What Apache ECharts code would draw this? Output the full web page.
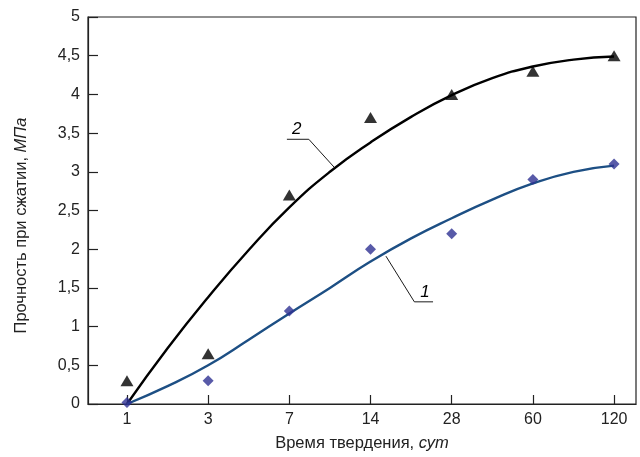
<!DOCTYPE html>
<html>
<head>
<meta charset="utf-8">
<script src="https://cdn.jsdelivr.net/npm/echarts@6/dist/echarts.min.js"></script>
<style>
html,body{margin:0;padding:0;background:#fff;}
#chart{width:640px;height:457px;}
</style>
</head>
<body>
<div id="chart"></div>
<script>
// Categories (curing time, days) — placed at equal steps
var categories = ['1', '3', '7', '14', '28', '60', '120'];
var yTicks = [0, 0.5, 1, 1.5, 2, 2.5, 3, 3.5, 4, 4.5, 5];

// Measured points
var seriesTriangles = [0.3, 0.65, 2.7, 3.7, 4.0, 4.3, 4.5];   // curve 2
var seriesDiamonds  = [0.02, 0.3, 1.2, 2.0, 2.2, 2.9, 3.1];   // curve 1

// Trend curves at half-steps between categories
var curvePos = [0, 0.5, 1, 1.5, 2, 2.5, 3, 3.5, 4, 4.5, 5, 5.5, 6];
var curve2 = [0.0, 0.72, 1.38, 1.99, 2.54, 3.00, 3.38, 3.71, 3.99, 4.21, 4.36, 4.45, 4.49];
var curve1 = [0.0, 0.23, 0.50, 0.83, 1.17, 1.50, 1.84, 2.14, 2.40, 2.64, 2.85, 3.00, 3.08];

var FONT = "'Liberation Sans', Arial, sans-serif";

function pairs(xs, ys) { return ys.map(function (v, i) { return [xs[i], v]; }); }
var idx = categories.map(function (c, i) { return i; });

var chart = echarts.init(document.getElementById('chart'), null, {renderer: 'canvas'});
chart.setOption({
  backgroundColor: '#fff',
  animation: false,
  grid: {left: 88, right: 4, top: 17, bottom: 53, show: true, borderColor: '#222', borderWidth: 1.2,
         containLabel: false, outerBoundsMode: 'none'},
  xAxis: {
    type: 'value', min: -0.48, max: 6.27,
    name: '{a|Время твердения, }{b|сут}',
    nameLocation: 'middle', nameGap: 31,
    nameTextStyle: {
      rich: {
        a: {fontFamily: FONT, fontSize: 16.5, color: '#222'},
        b: {fontFamily: FONT, fontSize: 16.5, color: '#222', fontStyle: 'italic'}
      }
    },
    axisLine: {show: true, onZero: false, lineStyle: {color: '#222', width: 1.2}},
    axisTick: {show: true, inside: true, length: 9, customValues: idx, lineStyle: {color: '#222', width: 1.2}},
    axisLabel: {
      customValues: idx, margin: 8, fontFamily: FONT, fontSize: 16, color: '#222',
      formatter: function (v) { return categories[Math.round(v)] || ''; }
    },
    splitLine: {show: false}
  },
  yAxis: {
    type: 'value', min: 0, max: 5, interval: 0.5,
    name: '{a|Прочность при сжатии, }{b|МПа}',
    nameLocation: 'middle', nameGap: 58,
    nameTextStyle: {
      padding: [0, 30, 0, 0],
      rich: {
        a: {fontFamily: FONT, fontSize: 16.5, color: '#222'},
        b: {fontFamily: FONT, fontSize: 16.5, color: '#222', fontStyle: 'italic'}
      }
    },
    axisLine: {show: true, onZero: false, lineStyle: {color: '#222', width: 1.2}},
    axisTick: {show: true, inside: true, length: 10, lineStyle: {color: '#222', width: 1.2}},
    axisLabel: {
      margin: 8, fontFamily: FONT, fontSize: 16, color: '#222',
      formatter: function (v) { return String(v).replace('.', ','); }
    },
    splitLine: {show: false}
  },
  series: [
    {
      name: 'curve2', type: 'line', smooth: 0.5, symbol: 'none',
      data: pairs(curvePos, curve2),
      lineStyle: {color: '#000', width: 2.4}, z: 3
    },
    {
      name: 'curve1', type: 'line', smooth: 0.5, symbol: 'none',
      data: pairs(curvePos, curve1),
      lineStyle: {color: '#1d4f84', width: 2.4}, z: 3
    },
    {
      name: 'points2', type: 'scatter', symbol: 'triangle', symbolSize: [13, 11],
      data: pairs(idx, seriesTriangles),
      itemStyle: {color: '#000'}, z: 4
    },
    {
      name: 'points1', type: 'scatter', symbol: 'diamond', symbolSize: [11, 11],
      data: pairs(idx, seriesDiamonds),
      itemStyle: {color: '#2e3192'}, z: 4
    },
    {
      name: 'leader2', type: 'line', symbol: 'none', silent: true,
      data: [[1.97, 3.42], [2.24, 3.42], [2.56, 3.05]],
      lineStyle: {color: '#000', width: 0.9}, z: 2,
      markPoint: {
        symbol: 'circle', symbolSize: 0,
        label: {show: true, formatter: '2', fontFamily: FONT, fontSize: 17, fontStyle: 'italic', color: '#000', position: 'inside'},
        data: [{coord: [2.09, 3.55]}]
      }
    },
    {
      name: 'leader1', type: 'line', symbol: 'none', silent: true,
      data: [[3.19, 1.91], [3.54, 1.32], [3.77, 1.32]],
      lineStyle: {color: '#000', width: 0.9}, z: 2,
      markPoint: {
        symbol: 'circle', symbolSize: 0,
        label: {show: true, formatter: '1', fontFamily: FONT, fontSize: 17, fontStyle: 'italic', color: '#000', position: 'inside'},
        data: [{coord: [3.67, 1.45]}]
      }
    }
  ]
});
</script>
</body>
</html>
